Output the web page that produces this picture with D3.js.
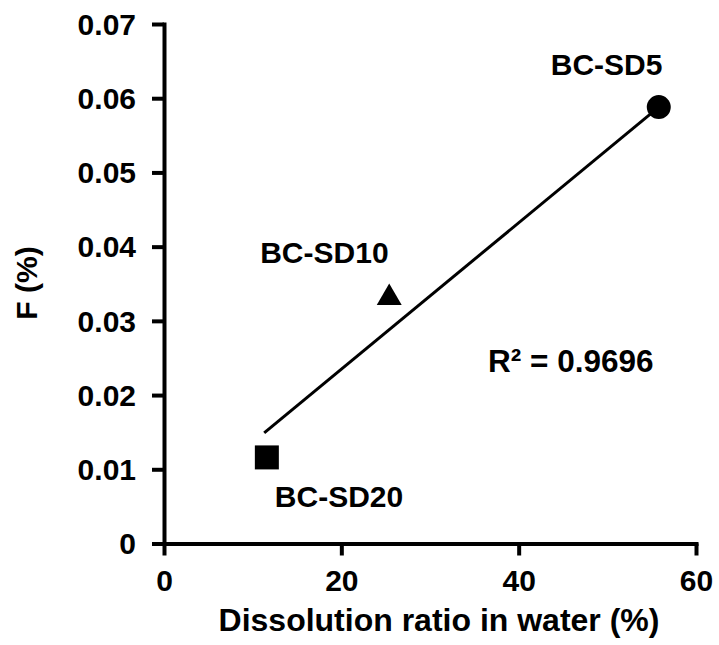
<!DOCTYPE html>
<html>
<head>
<meta charset="utf-8">
<script src="https://cdn.jsdelivr.net/npm/d3@7"></script>
<style>
  html, body { margin: 0; padding: 0; background: #fff; }
  svg text { font-family: "Liberation Sans", Arial, sans-serif; font-weight: bold; fill: #000; }
</style>
</head>
<body>
<svg id="chart" width="719" height="645"></svg>
<script>
// ---- data ----
const samples = ["BC-SD5", "BC-SD10", "BC-SD20"];
const dissolution = [55.8, 25.4, 11.6];     // x, %
const fValues = [0.0588, 0.0331, 0.0116];   // y, %
const markerShapes = ["circle", "triangle", "square"];
const trendX = [11.3, 55.8];
const trendY = [0.0149, 0.0588];
const rSquaredText = "R\u00B2 = 0.9696";
const xTicks = [0, 20, 40, 60];
const yTicks = [0, 0.01, 0.02, 0.03, 0.04, 0.05, 0.06, 0.07];
const xTitle = "Dissolution ratio in water (%)";
const yTitle = "F (%)";

// ---- layout ----
const svg = d3.select("#chart");
const x = d3.scaleLinear().domain([0, 60]).range([164, 696]);
const y = d3.scaleLinear().domain([0, 0.07]).range([543.5, 24]);
const fontSize = 30;

// x axis
const gx = svg.append("g").attr("transform", `translate(0,${y(0)})`)
  .call(d3.axisBottom(x).tickValues(xTicks).tickSize(12).tickSizeOuter(0).tickPadding(14)
        .tickFormat(d3.format("d")));
// y axis
const gy = svg.append("g").attr("transform", `translate(${x(0)},0)`)
  .call(d3.axisLeft(y).tickValues(yTicks).tickSize(12).tickSizeOuter(0).tickPadding(16)
        .tickFormat(d => d === 0 ? "0" : d3.format(".2f")(d)));

[gx, gy].forEach(g => {
  g.select(".domain").attr("stroke", "#000").attr("stroke-width", 4).attr("stroke-linecap", "square");
  g.selectAll(".tick line").attr("stroke", "#000").attr("stroke-width", 4);
  g.selectAll(".tick text").style("font-size", fontSize + "px")
    .style("font-family", '"Liberation Sans", Arial, sans-serif').style("font-weight", "bold").attr("fill", "#000");
});
gx.selectAll(".tick text").attr("dy", "0.71em");
gy.selectAll(".tick text").attr("dy", "0.34em");

// trend line
svg.append("line")
  .attr("x1", x(trendX[0])).attr("y1", y(trendY[0]))
  .attr("x2", x(trendX[1])).attr("y2", y(trendY[1]))
  .attr("stroke", "#000").attr("stroke-width", 3);

// markers
const symbolMap = {
  circle: d3.symbol().type(d3.symbolCircle).size(Math.PI * 12 * 12),
  triangle: d3.symbol().type(d3.symbolTriangle).size(270),
  square: d3.symbol().type(d3.symbolSquare).size(24 * 24)
};
samples.forEach((s, i) => {
  svg.append("path")
    .attr("d", symbolMap[markerShapes[i]]())
    .attr("transform", `translate(${x(dissolution[i])},${y(fValues[i])})`)
    .attr("fill", "#000");
});

// point labels (pixel offsets from each point)
const labelOffsets = [[-108, -32], [-129, -35], [8, 49.5]];
samples.forEach((s, i) => {
  svg.append("text")
    .attr("x", x(dissolution[i]) + labelOffsets[i][0])
    .attr("y", y(fValues[i]) + labelOffsets[i][1])
    .style("font-size", fontSize + "px")
    .text(s);
});

// R squared
svg.append("text")
  .attr("x", 488).attr("y", 372)
  .style("font-size", "31.5px")
  .text(rSquaredText);

// axis titles
svg.append("text")
  .attr("x", 439).attr("y", 631)
  .attr("text-anchor", "middle")
  .style("font-size", "32px")
  .text(xTitle);
svg.append("text")
  .attr("transform", "translate(37,283) rotate(-90)")
  .attr("text-anchor", "middle")
  .style("font-size", "30px")
  .text(yTitle);
</script>
</body>
</html>
